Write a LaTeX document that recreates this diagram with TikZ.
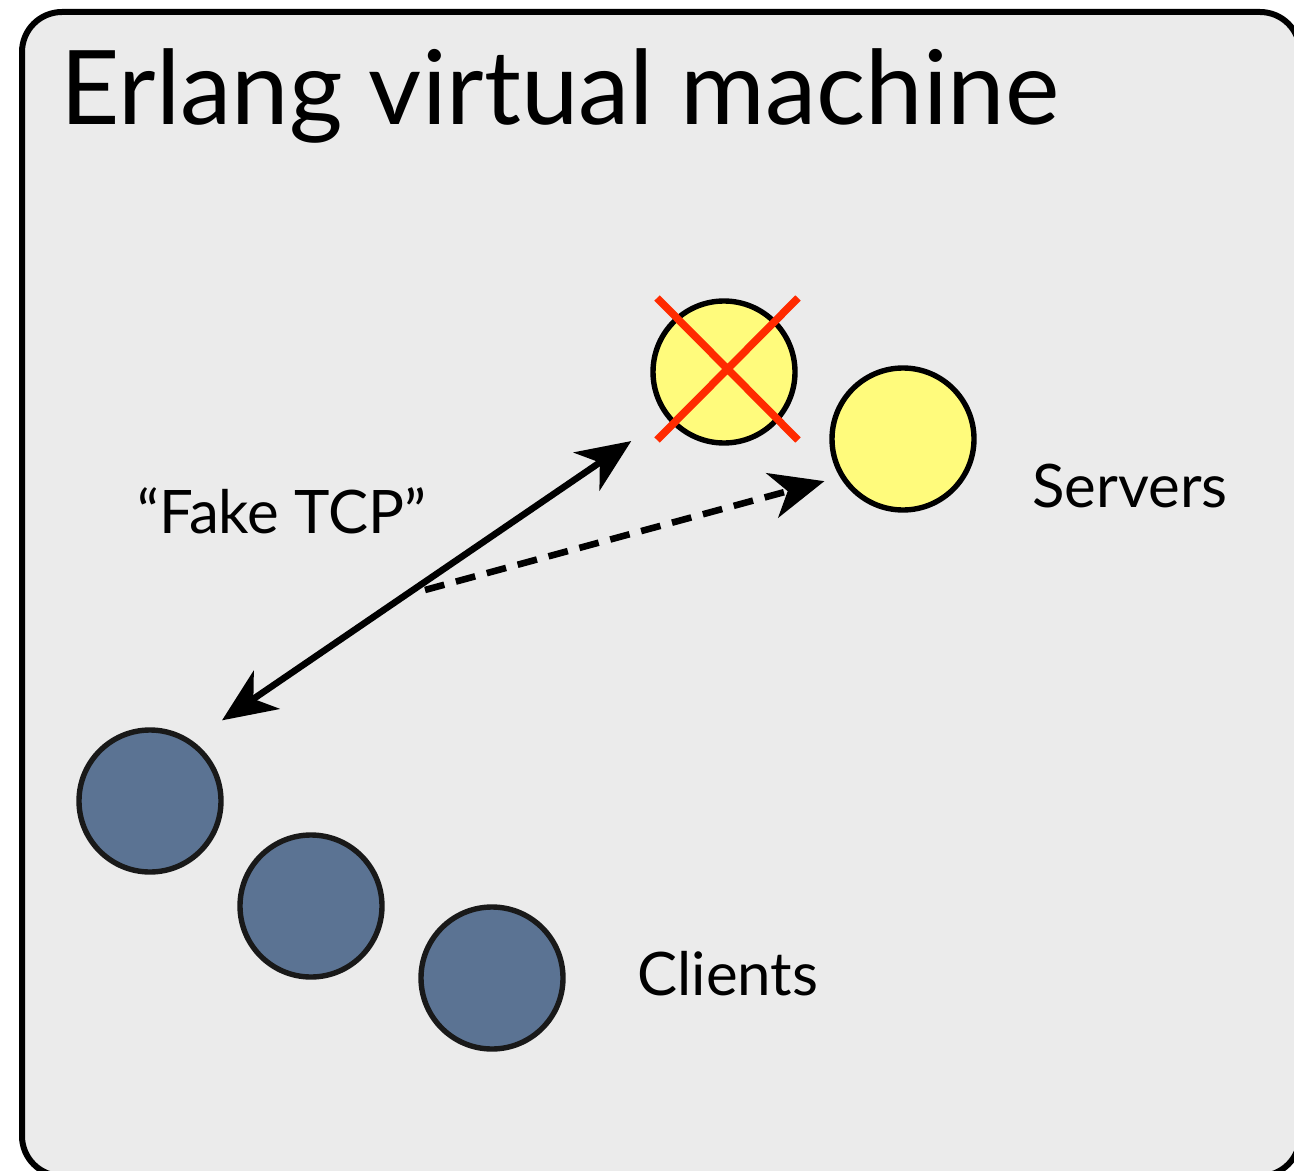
\documentclass[tikz,border=0pt]{standalone}
\usepackage{fontspec}
\setmainfont{Lato}
\usetikzlibrary{positioning,arrows.meta,calc}
\definecolor{vmfill}{HTML}{EBEBEB}
\definecolor{srvfill}{HTML}{FFFB7C}
\definecolor{clifill}{HTML}{5B7393}
\definecolor{cross}{HTML}{FF2A00}
\tikzset{
  vm/.style     = {draw=black, fill=vmfill, line width=3pt, rounded corners=20pt},
  proc/.style   = {circle, draw=black, line width=2.7pt, minimum size=71pt, inner sep=0pt},
  srv/.style    = {proc, fill=srvfill},
  cli/.style    = {proc, fill=clifill, draw=black!90},
  lbl/.style    = {font=\fontsize{30}{35}\selectfont, inner sep=0pt, anchor=base west},
  link/.style   = {line width=3.3pt, >={Stealth[length=27pt,width=23pt,inset=8pt]}},
  kill/.style   = {draw=cross, line width=3.8pt},
}
\begin{document}
\begin{tikzpicture}[x=0.5pt,y=-0.5pt]
  \useasboundingbox (0,0) rectangle (1294,1171);
  \draw[vm] (22,12) rectangle (1300,1176);
  \node[font=\fontsize{51.5}{60}\selectfont, inner sep=0pt, anchor=base west] (title) at (60,125) {Erlang virtual machine};
  % processes
  \node[srv] (dead) at (724,372) {};
  \node[srv] (server) at (903,439) {};
  \node[cli] (cliA) at (150,801) {};
  \node[cli] (cliB) at (311,906) {};
  \node[cli] (cliC) at (492,978) {};
  % the crashed one
  \draw[kill] (657,298) -- (798,440) (798,298) -- (657,440);
  % links
  \draw[link,<->,shorten <=18pt,shorten >=21pt] (cliA.55) -- (dead.218);
  \coordinate (fork) at (425,590);
  \draw[link,->,dash pattern=on 10pt off 6pt,shorten >=8pt] (fork) -- (server.211);
  % labels
  \node[lbl] (tcp) at (137,533) {``Fake TCP''};
  \node[lbl] (srvlbl) at (1032,507) {Servers};
  \node[lbl] (clilbl) at (637,995) {Clients};
\end{tikzpicture}
\end{document}
